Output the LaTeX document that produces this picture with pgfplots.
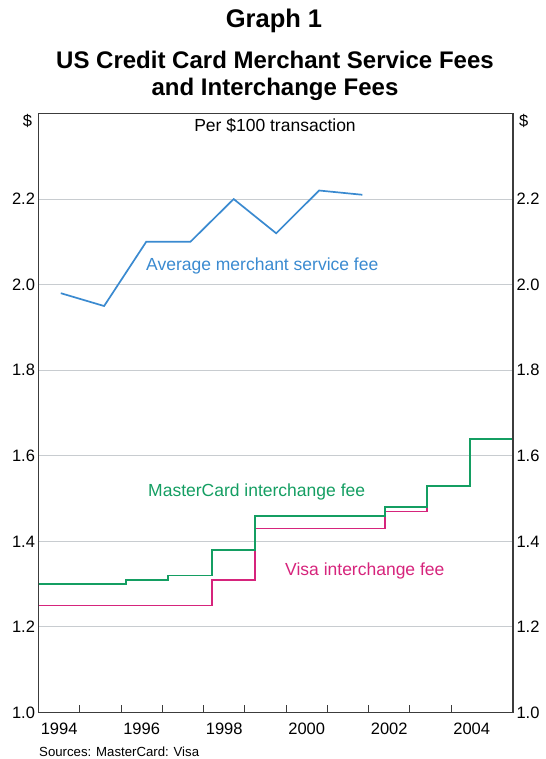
\documentclass[border=0pt]{standalone}
\usepackage{pgfplots}
\pgfplotsset{compat=1.18}
\usepackage{fontspec}
\setmainfont{Liberation Sans}

\definecolor{feeblue}{RGB}{58,138,208}
\definecolor{mcgreen}{RGB}{20,158,98}
\definecolor{visapink}{RGB}{214,36,124}
\definecolor{gridgray}{RGB}{200,204,208}
\definecolor{axisgray}{RGB}{60,60,60}

\begin{document}
\begin{tikzpicture}[x=1bp,y=1bp]
\useasboundingbox (0,0) rectangle (546,759);

% titles
\node[font=\fontsize{25.5bp}{28bp}\selectfont\bfseries] at (274,738) {Graph 1};
\node[font=\fontsize{24bp}{28bp}\selectfont\bfseries] at (275,699) {US Credit Card Merchant Service Fees};
\node[font=\fontsize{24bp}{28bp}\selectfont\bfseries] at (275,670) {and Interchange Fees};

\pgfplotsset{
  fees/.style={
    at={(38.5bp,46.5bp)}, anchor=south west,
    scale only axis, width=474.5bp, height=599bp,
    xmin=1994, xmax=2005.5, ymin=1, ymax=2.4,
    ytick={1,1.2,1.4,1.6,1.8,2,2.2},
    yticklabel style={/pgf/number format/.cd,fixed,fixed zerofill,precision=1},
    y tick style={draw=none},
    ticklabel style={font=\fontsize{16.5bp}{18bp}\selectfont},
    /pgf/number format/assume math mode=true,
    axis line style={draw=axisgray, line width=1.1bp},
  }
}

\begin{axis}[fees,
  xtick={1995,1996,...,2004}, xticklabels={},
  x tick style={draw=axisgray, line width=0.9bp},
  major tick length=7bp, tick align=inside, xtick pos=left,
  extra x ticks={1994.5,1996.5,1998.5,2000.5,2002.5,2004.5},
  extra x tick labels={1994,1996,1998,2000,2002,2004},
  extra x tick style={major tick length=0pt},
  xticklabel style={yshift=-7bp},
  ytick pos=left,
  ymajorgrids, grid style={draw=gridgray, line width=1bp},
  clip=false,
]
% average merchant service fee
\addplot[feeblue, line width=1.7bp] coordinates {
  (1994.54,1.98) (1995.59,1.95) (1996.61,2.10) (1997.68,2.10)
  (1998.73,2.20) (1999.76,2.12) (2000.80,2.22) (2001.85,2.21)
};
% Visa interchange fee
\addplot[visapink, line width=1.8bp, const plot] coordinates {
  (1994,1.25) (1998.20,1.31) (1999.24,1.43) (2002.39,1.47)
  (2003.42,1.53) (2004.46,1.64) (2005.5,1.64)
};
% MasterCard interchange fee
\addplot[mcgreen, line width=1.8bp, const plot] coordinates {
  (1994,1.30) (1996.12,1.31) (1997.14,1.32) (1998.20,1.38)
  (1999.24,1.46) (2002.39,1.48) (2003.42,1.53) (2004.46,1.64) (2005.5,1.64)
};
\end{axis}

\begin{axis}[fees,
  hide x axis, axis y line*=right, yticklabel pos=right,
]
\end{axis}

% labels
\begin{scope}[font=\fontsize{17.5bp}{20bp}\selectfont, inner sep=0pt]
\node at (275,633) {Per \$100 transaction};
\node[anchor=west, text=feeblue] at (146,493) {Average merchant service fee};
\node[anchor=west, text=mcgreen] at (148,267) {MasterCard interchange fee};
\node[anchor=west, text=visapink] at (285,188) {Visa interchange fee};
\end{scope}
\node[font=\fontsize{16.5bp}{18bp}\selectfont, anchor=east, inner sep=0pt] at (32.3,638) {\$};
\node[font=\fontsize{16.5bp}{18bp}\selectfont, anchor=west, inner sep=0pt] at (519,638) {\$};
\node[font=\fontsize{13.2bp}{15bp}\selectfont, anchor=west, inner sep=0pt] at (39,7) {Sources: MasterCard: Visa};
\end{tikzpicture}
\end{document}
